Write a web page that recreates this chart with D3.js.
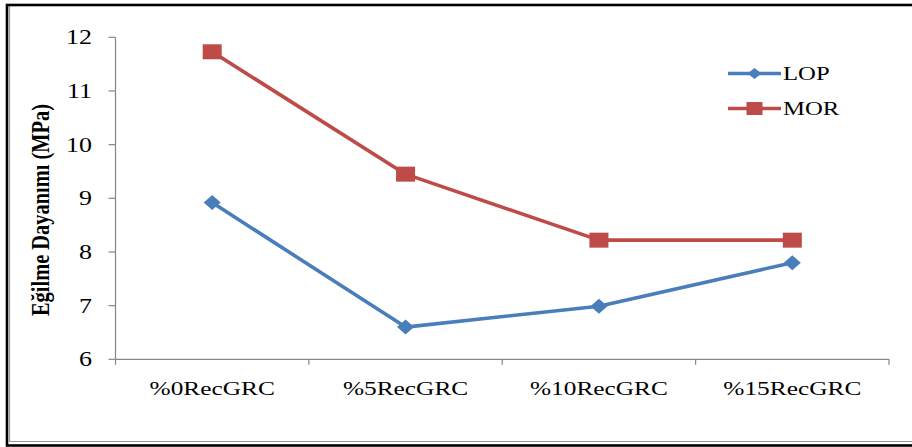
<!DOCTYPE html>
<html><head><meta charset="utf-8">
<script src="https://cdn.jsdelivr.net/npm/d3@7"></script>
<style>body{margin:0;background:#fff}svg{display:block}text{font-family:"Liberation Serif","Times New Roman",serif;fill:#000}</style>
</head><body><svg id="c" width="912" height="447"></svg>
<script>
const categories = ["%0RecGRC", "%5RecGRC", "%10RecGRC", "%15RecGRC"];
const lopValues = [8.92, 6.60, 6.99, 7.80];
const morValues = [11.73, 9.45, 8.22, 8.22];
const yTicks = [6, 7, 8, 9, 10, 11, 12];
const seriesNames = ["LOP", "MOR"];

const SX = 1.3; // horizontal stretch of the original rendering
const svg = d3.select("#c");

// frame
svg.append("line").attr("x1",9.5).attr("x2",9.5).attr("y1",6).attr("y2",442).attr("stroke","#999").attr("stroke-width",1.2);
svg.append("line").attr("x1",9).attr("x2",912).attr("y1",441.5).attr("y2",441.5).attr("stroke","#999").attr("stroke-width",1.2);
svg.append("rect").attr("x",7).attr("y",5).attr("width",910).attr("height",440.5)
  .attr("fill","none").attr("stroke","#000").attr("stroke-width",2.6);

const x0 = 115.5, x1 = 889, yTop = 37.3, yBot = 359.3;
const x = d3.scaleBand().domain(categories).range([x0, x1]);
const y = d3.scaleLinear().domain([6, 12]).range([yBot, yTop]);

function stext(g, xx, yy, str, size, anchor, weight) {
  return g.append("text").attr("transform", `translate(${xx},${yy}) scale(${SX},1)`)
    .attr("text-anchor", anchor).attr("font-size", size).attr("font-weight", weight || "normal").text(str);
}

const axisColor = "#868686";
// y axis
const ya = svg.append("g");
ya.append("line").attr("x1",x0).attr("x2",x0).attr("y1",yTop).attr("y2",yBot).attr("stroke",axisColor).attr("stroke-width",1.2);
yTicks.forEach(t => {
  ya.append("line").attr("x1",x0-7).attr("x2",x0).attr("y1",y(t)).attr("y2",y(t)).attr("stroke",axisColor).attr("stroke-width",1.2);
  stext(ya, 92, y(t)+7, String(t), 20, "end");
});
// x axis
const xa = svg.append("g");
xa.append("line").attr("x1",x0).attr("x2",x1).attr("y1",yBot).attr("y2",yBot).attr("stroke",axisColor).attr("stroke-width",1.2);
const bounds = categories.map(c => x(c)).concat([x1]);
bounds.forEach(b => {
  xa.append("line").attr("x1",b).attr("x2",b).attr("y1",yBot).attr("y2",yBot+5.5).attr("stroke",axisColor).attr("stroke-width",1.2);
});
categories.forEach(c => stext(xa, x(c)+x.bandwidth()/2, 395, c, 19.5, "middle"));

// y title
svg.append("text").attr("transform", `translate(49,210) scale(${SX},1) rotate(-90)`)
  .attr("text-anchor","middle").attr("font-size",19).attr("font-weight","bold")
  .attr("textLength",212).attr("lengthAdjust","spacingAndGlyphs")
  .text("Eğilme Dayanımı (MPa)");

const cx = c => x(c) + x.bandwidth()/2;
const colors = {LOP:"#4A7EBB", MOR:"#BE4B48"};
const line = d3.line().x(d => cx(d.c)).y(d => y(d.v));

function drawDiamond(g, px, py, w, h, col) {
  g.append("path").attr("d", `M${px},${py-h/2}L${px+w/2},${py}L${px},${py+h/2}L${px-w/2},${py}Z`).attr("fill", col);
}
function drawSquare(g, px, py, w, h, col) {
  g.append("rect").attr("x", px-w/2).attr("y", py-h/2).attr("width", w).attr("height", h).attr("fill", col);
}

const lopData = categories.map((c,i) => ({c, v: lopValues[i]}));
const morData = categories.map((c,i) => ({c, v: morValues[i]}));

const gL = svg.append("g");
gL.append("path").datum(lopData).attr("d", line).attr("fill","none").attr("stroke",colors.LOP).attr("stroke-width",3.6).attr("stroke-linejoin","round");
lopData.forEach(d => drawDiamond(gL, cx(d.c), y(d.v), 17, 15, colors.LOP));
const gM = svg.append("g");
gM.append("path").datum(morData).attr("d", line).attr("fill","none").attr("stroke",colors.MOR).attr("stroke-width",3.6).attr("stroke-linejoin","round");
morData.forEach(d => drawSquare(gM, cx(d.c), y(d.v), 19, 15, colors.MOR));

// legend
const lg = svg.append("g");
[[seriesNames[0], 73.5, "LOP"], [seriesNames[1], 108.5, "MOR"]].forEach(([name, ly, key]) => {
  lg.append("line").attr("x1",728).attr("x2",781).attr("y1",ly).attr("y2",ly).attr("stroke",colors[key]).attr("stroke-width",3.6);
  if (key === "LOP") drawDiamond(lg, 754.5, ly, 14, 11, colors[key]);
  else drawSquare(lg, 754.5, ly, 16, 13, colors[key]);
  stext(lg, 783, ly+6.5, name, 19, "start");
});
</script></body></html>
